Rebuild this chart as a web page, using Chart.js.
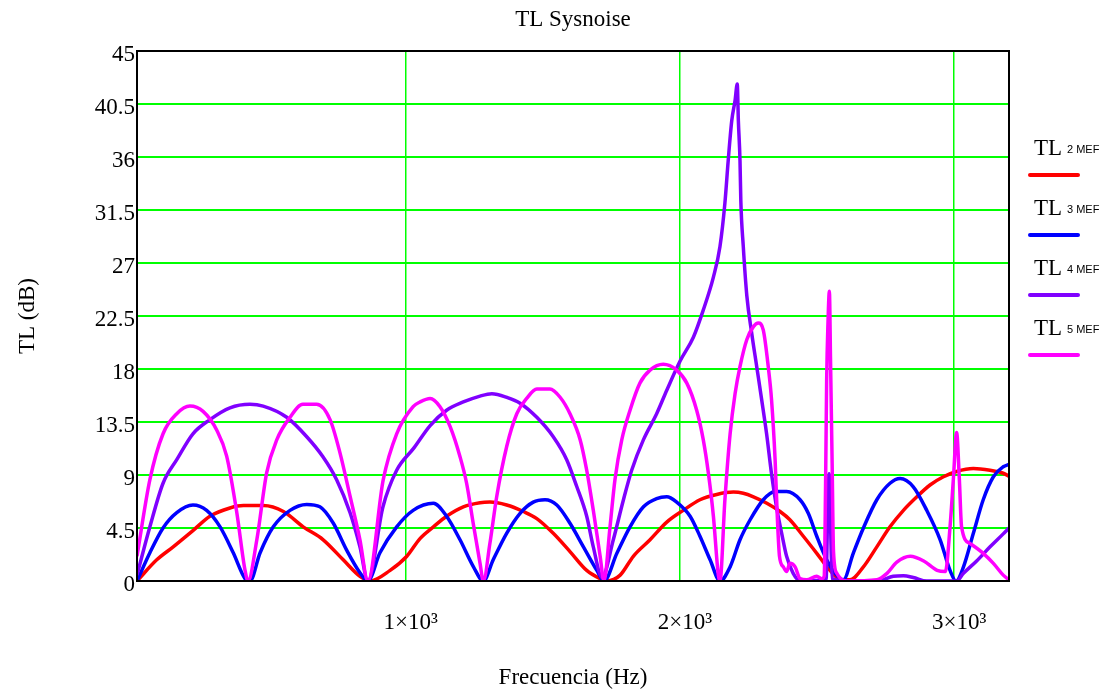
<!DOCTYPE html>
<html>
<head>
<meta charset="utf-8">
<title>TL Sysnoise</title>
<script src="https://cdn.jsdelivr.net/npm/chart.js@4.4.1/dist/chart.umd.min.js"></script>
<style>
    html, body { margin: 0; padding: 0; background: #fff; }
    canvas { display: block; }
</style>
</head>
<body>
<canvas id="chartTL" width="1110" height="695"></canvas>
<script>
// Datos: frecuencia (Hz) y TL (dB) de cada configuracion
const freq2 = [20, 92, 152, 225, 286, 359, 408, 481, 554, 626, 699, 772, 833, 870, 943, 1004, 1052, 1101, 1149, 1210,
    1271, 1307, 1368, 1429, 1478, 1538, 1599, 1660, 1709, 1733, 1782, 1830, 1891, 1952, 2012, 2073, 2134, 2195, 2231, 2268,
    2317, 2365, 2401, 2450, 2499, 2547, 2590, 2620, 2669, 2718, 2766, 2815, 2864, 2912, 2961, 3009, 3070, 3131, 3179, 3200];
const tl2 = [0, 1.8, 2.9, 4.3, 5.5, 6.2, 6.4, 6.4, 5.9, 4.6, 3.5, 1.8, 0.4, 0, 0.9, 2.1, 3.6, 4.6, 5.5, 6.3,
    6.65, 6.7, 6.45, 5.9, 5.3, 4.05, 2.5, 0.9, 0.2, 0, 0.5, 2.1, 3.5, 5.0, 6.0, 6.9, 7.35, 7.55, 7.45, 7.15,
    6.6, 5.9, 5.2, 3.8, 2.35, 0.9, 0.1, 0.1, 1.2, 2.9, 4.6, 6.0, 7.15, 8.15, 8.85, 9.3, 9.55, 9.4, 9.15, 8.9];

const freq3 = [20, 67, 115, 165, 224, 274, 323, 371, 414, 432, 469, 517, 578, 639, 687, 736, 785, 833, 862, 906,
    967, 1027, 1101, 1149, 1198, 1247, 1283, 1319, 1368, 1417, 1465, 1508, 1551, 1599, 1648, 1697, 1723, 1770, 1818, 1867,
    1915, 1952, 1988, 2037, 2073, 2110, 2146, 2183, 2219, 2256, 2304, 2347, 2389, 2438, 2468, 2499, 2535, 2566, 2596, 2632,
    2669, 2718, 2766, 2803, 2851, 2900, 2949, 2985, 3007, 3034, 3070, 3106, 3143, 3179, 3200];
const tl3 = [0, 2.4, 4.5, 5.8, 6.45, 6.0, 4.6, 2.4, 0.2, 0, 2.4, 4.6, 6.0, 6.5, 6.3, 4.9, 2.6, 0.7, 0, 2.4,
    4.6, 6.0, 6.6, 5.5, 3.5, 1.2, 0, 1.8, 4.05, 5.75, 6.7, 6.9, 6.45, 4.9, 2.9, 0.9, 0, 2.35, 4.6, 6.3,
    7.0, 7.15, 6.7, 5.5, 3.8, 1.8, 0, 1.2, 3.5, 5.2, 6.9, 7.6, 7.6, 6.9, 5.75, 3.8, 1.8, 0.65, 0.1, 2.35,
    4.5, 6.9, 8.3, 8.7, 8.0, 6.0, 3.5, 0.9, 0, 1.2, 4.05, 6.9, 8.85, 9.7, 9.9];

const freq4 = [20, 67, 115, 165, 224, 286, 359, 432, 480, 566, 639, 698, 748, 797, 833, 862, 917, 967, 1030, 1089,
    1149, 1210, 1271, 1314, 1368, 1417, 1478, 1538, 1587, 1624, 1660, 1684, 1716, 1757, 1794, 1824, 1867, 1915, 1952, 2001,
    2049, 2085, 2122, 2146, 2164, 2176, 2189, 2201, 2209, 2213, 2219, 2222, 2231, 2244, 2262, 2280, 2298, 2316, 2334, 2352,
    2371, 2389, 2413, 2438, 2533, 2538, 2544, 2549, 2555, 2620, 2718, 2778, 2815, 2851, 2900, 3009, 3034, 3082, 3131, 3179,
    3200];
const tl4 = [0.5, 4.6, 8.3, 10.3, 12.5, 13.7, 14.7, 15.0, 14.85, 13.9, 12.25, 10.55, 8.6, 5.8, 2.9, 0, 6.3, 9.4, 11.3, 13.2,
    14.5, 15.2, 15.7, 15.9, 15.6, 15.1, 13.9, 12.25, 10.3, 8.0, 5.5, 2.9, 0.3, 3.5, 6.9, 9.4, 12.0, 14.2, 16.2, 18.7,
    20.7, 23.0, 25.8, 28.4, 32.1, 35.7, 39.1, 40.8, 42.2, 39.1, 35.7, 32.3, 28.4, 24.2, 21.0, 18.2, 15.4, 12.5, 9.1, 6.3,
    4.05, 2.1, 0.65, 0, 0.1, 5, 9.1, 5, 0.2, 0, 0, 0.4, 0.45, 0.3, 0, 0, 0.65, 1.7, 2.9, 4.0,
    4.5];

const freq5 = [20, 67, 115, 165, 213, 261, 311, 347, 384, 414, 425, 457, 493, 530, 578, 625, 675, 724, 760, 797,
    833, 862, 918, 967, 1027, 1052, 1089, 1125, 1162, 1198, 1222, 1246, 1271, 1283, 1307, 1332, 1368, 1405, 1441, 1478,
    1526, 1563, 1599, 1636, 1660, 1684, 1709, 1723, 1745, 1763, 1788, 1818, 1854, 1891, 1939, 1988, 2025, 2061, 2085, 2104,
    2122, 2140, 2146, 2164, 2183, 2201, 2219, 2244, 2268, 2286, 2304, 2322, 2334, 2347, 2355, 2363, 2377, 2389, 2401, 2420,
    2438, 2462, 2499, 2517, 2526, 2531, 2535, 2540, 2545, 2549, 2555, 2560, 2572, 2608, 2718, 2755, 2791, 2840, 2889, 2938,
    2968, 2985, 2997, 3009, 3019, 3027, 3057, 3106, 3143, 3179, 3200];
const tl5 = [2.1, 8.6, 12.5, 14.2, 14.85, 14.4, 12.8, 10.6, 5.8, 0.9, 0, 3.5, 9.2, 12, 13.9, 15.0, 15.0, 13.7, 10.9, 7.2,
    3.5, 0, 8.6, 12.5, 14.8, 15.2, 15.5, 14.8, 13.1, 10.55, 8.3, 4.9, 1.5, 0, 3.2, 7.2, 11.4, 14.2, 15.5, 16.3,
    16.3, 15.6, 14.2, 12.0, 9.4, 6.0, 2.1, 0, 4.6, 8.6, 12.0, 14.5, 16.8, 17.9, 18.4, 17.9, 16.8, 14.5, 12.0, 9.1,
    5.5, 0.5, 0, 6.9, 12.5, 15.9, 18.2, 20.5, 21.6, 21.9, 21.3, 18.2, 15.4, 10.3, 5.5, 2.1, 1.2, 0.8, 1.5, 1.2,
    0.2, 0.1, 0.4, 0.2, 0.4, 8, 17, 22, 24.6, 19, 10, 2.5, 0.65, 0, 0.1, 0.65, 1.6, 2.1, 1.7, 0.9,
    0.8, 4.6, 8.6, 12.6, 8.6, 4.6, 3.2, 2.35, 1.5, 0.5, 0.1];

const seriesNames = ["2 MEF", "3 MEF", "4 MEF", "5 MEF"];
const xTicks = [1000, 2000, 3000];
const xTickLabels = ["1\u00d710\u00b3", "2\u00d710\u00b3", "3\u00d710\u00b3"];
const yTicks = [0, 4.5, 9, 13.5, 18, 22.5, 27, 31.5, 36, 40.5, 45];

document.addEventListener("DOMContentLoaded", function () {
    const canvas = document.getElementById("chartTL");
    const serif = '"Liberation Serif", "Times New Roman", serif';
    const colores = ["#ff0000", "#0000ff", "#8000ff", "#ff00ff"];
    const verde = "#00ff00";
    const freqs = [freq2, freq3, freq4, freq5];
    const tls = [tl2, tl3, tl4, tl5];

    Chart.defaults.font.family = serif;
    Chart.defaults.color = "#000";

    // marco negro alrededor del area de trazado
    const marco = {
        id: "marco",
        afterDatasetsDraw(chart) {
            const { ctx, chartArea: a } = chart;
            ctx.save();
            ctx.strokeStyle = "#000";
            ctx.lineWidth = 2;
            ctx.strokeRect(a.left, a.top, a.right - a.left, a.bottom - a.top);
            ctx.restore();
        }
    };

    // leyenda a la derecha: "TL" + subindice y linea de color debajo
    const leyenda = {
        id: "leyenda",
        afterDraw(chart) {
            const { ctx, chartArea: a } = chart;
            chart.data.datasets.forEach(function (ds, i) {
                const y = 155 + i * 60;
                const x = a.right + 25;
                ctx.save();
                ctx.fillStyle = "#000";
                ctx.textBaseline = "alphabetic";
                ctx.font = "23px " + serif;
                ctx.fillText("TL", x, y);
                ctx.font = '11px "Liberation Sans", Arial, sans-serif';
                ctx.fillText(seriesNames[i], x + 33, y - 2.5);
                ctx.strokeStyle = ds.borderColor;
                ctx.lineWidth = 4;
                ctx.lineCap = "round";
                ctx.beginPath();
                ctx.moveTo(x - 4, y + 20);
                ctx.lineTo(x + 44, y + 20);
                ctx.stroke();
                ctx.restore();
            });
        }
    };

    new Chart(canvas, {
        type: "line",
        data: {
            datasets: seriesNames.map(function (nombre, i) {
                return {
                    label: "TL " + nombre,
                    data: freqs[i].map((f, k) => ({ x: f, y: tls[i][k] })),
                    borderColor: colores[i],
                    borderWidth: 3.5,
                    pointRadius: 0,
                    cubicInterpolationMode: "monotone",
                    fill: false,
                    order: 4 - i
                };
            })
        },
        options: {
            responsive: false,
            animation: false,
            layout: { padding: { left: 0, top: 0, right: 101, bottom: 0 } },
            plugins: {
                legend: { display: false },
                tooltip: { enabled: false },
                title: {
                    display: true,
                    text: "TL Sysnoise",
                    fullSize: false,
                    font: { size: 23, weight: "normal" },
                    color: "#000",
                    padding: { top: 6, bottom: 17.4 }
                }
            },
            scales: {
                x: {
                    type: "linear",
                    min: 20,
                    max: 3200,
                    afterBuildTicks: (s) => { s.ticks = xTicks.map(v => ({ value: v })); },
                    afterFit: (s) => { s.height = 114; },
                    grid: { color: verde, lineWidth: 1.5, drawTicks: false },
                    border: { display: false },
                    ticks: {
                        padding: 28,
                        labelOffset: 5,
                        maxRotation: 0,
                        font: { size: 23 },
                        color: "#000",
                        callback: (v) => xTickLabels[xTicks.indexOf(v)]
                    },
                    title: {
                        display: true,
                        text: "Frecuencia (Hz)",
                        font: { size: 23 },
                        color: "#000",
                        padding: { top: 0, bottom: 3 }
                    }
                },
                y: {
                    min: 0,
                    max: 45,
                    afterBuildTicks: (s) => { s.ticks = yTicks.map(v => ({ value: v })); },
                    afterFit: (s) => { s.width = 137; },
                    grid: { color: verde, lineWidth: 2, drawTicks: false },
                    border: { display: false },
                    ticks: {
                        padding: 2,
                        labelOffset: 4,
                        font: { size: 23 },
                        color: "#000",
                        callback: (v) => String(v)
                    },
                    title: {
                        display: true,
                        text: "TL (dB)",
                        font: { size: 23 },
                        color: "#000",
                        padding: { top: 14, bottom: 0 }
                    }
                }
            }
        },
        plugins: [marco, leyenda]
    });
});
</script>
</body>
</html>
